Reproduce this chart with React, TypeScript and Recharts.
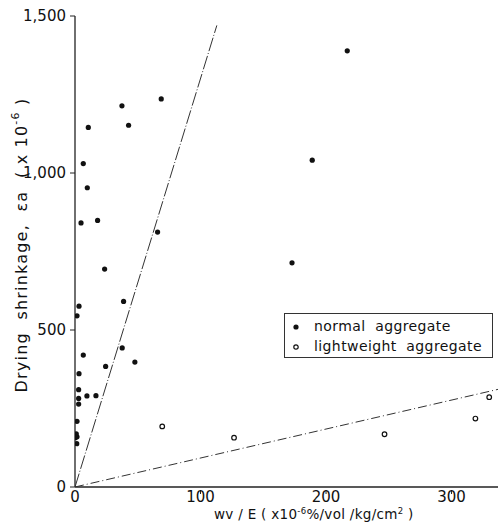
import React from 'react';
import { ScatterChart, Scatter, XAxis, YAxis, Legend, Label } from 'recharts';

// normal aggregate (filled dots)
const normalX = [4.8, 18, 6.6, 9.8, 10.6, 37.4, 42.7, 68.7, 65.8, 216.9, 189, 172.9, 23.6, 38.7, 3.2, 1.6, 6.6, 37.6, 24.4, 47.7, 3.2, 2.9, 2.9, 2.9, 9.5, 16.7, 1.6, 1, 1.6, 0.3, 1.4];
const normalY = [841, 849, 1030, 953, 1145, 1214, 1152, 1236, 812, 1389, 1041, 714, 694, 591, 576, 545, 420, 443, 384, 398, 361, 310, 282, 264, 290, 291, 209, 169, 160, 157, 138];

// lightweight aggregate (open circles)
const lightX = [69.5, 126.7, 246.6, 319, 330];
const lightY = [193, 157, 168, 218, 286];

// fitted lines through the origin
const steepLineX = [0, 113];
const steepLineY = [0, 1470];
const flatLineX = [0, 337];
const flatLineY = [0, 311];

const xTicks = [0, 100, 200, 300];
const yTicks = [0, 500, 1000, 1500];

const zip = (xs: number[], ys: number[]) => xs.map((x, i) => ({ x, y: ys[i] }));

const normalData = zip(normalX, normalY);
const lightData = zip(lightX, lightY);
const steepData = zip(steepLineX, steepLineY);
const flatData = zip(flatLineX, flatLineY);

const font = '"DejaVu Sans", sans-serif';

const XTick = (props: any) => {
  const { x, y, payload } = props;
  return (
    <g>
      {payload.value !== 0 && <line x1={x} x2={x} y1={y - 1} y2={y - 5} stroke="#222" strokeWidth={1} />}
      <text x={x} y={y + 7} textAnchor="middle" fontSize={15} fill="#111" fontFamily={font}>
        {payload.value}
      </text>
    </g>
  );
};

const YTick = (props: any) => {
  const { x, y, payload } = props;
  return (
    <text x={x - 2} y={y + 5} textAnchor="end" fontSize={15} fill="#111" fontFamily={font}>
      {payload.value.toLocaleString('en-US')}
    </text>
  );
};

const LegendBox = () => (
  <div
    style={{
      border: '1px solid #333',
      width: 199,
      padding: '2px 0 1px 8px',
      fontFamily: font,
      fontSize: 14,
      letterSpacing: 0.4,
      color: '#111',
      background: '#fff',
      lineHeight: '20px',
      textAlign: 'left',
    }}
  >
    <div>
      <svg width={21} height={10}><circle cx={3} cy={6} r={2.6} fill="#111" /></svg>
      normal&nbsp; aggregate
    </div>
    <div>
      <svg width={21} height={10}><circle cx={3} cy={6} r={2.2} fill="none" stroke="#111" strokeWidth={1.2} /></svg>
      lightweight&nbsp; aggregate
    </div>
  </div>
);

export default function App() {
  return (
    <div style={{ position: 'absolute', left: 0, top: 0, background: '#fff' }}>
      <ScatterChart width={500} height={524} margin={{ top: 16, right: 2, bottom: 7, left: 0 }}>
        <XAxis
          type="number"
          dataKey="x"
          domain={[0, 337]}
          ticks={xTicks}
          tick={<XTick />}
          tickLine={false}
          axisLine={{ stroke: '#222', strokeWidth: 1.3 }}
          height={30}
          allowDataOverflow
        >
          <Label
            content={() => (
              <text x={214} y={519} textAnchor="start" fontSize={13.5} letterSpacing={0.3} fill="#111" fontFamily={font}>
                wv / E ( x10<tspan dy={-5} fontSize={8.5}>-6</tspan><tspan dy={5}>%/vol /kg/cm</tspan>
                <tspan dy={-5} fontSize={8.5}>2</tspan><tspan dy={5}> )</tspan>
              </text>
            )}
          />
        </XAxis>
        <YAxis
          type="number"
          dataKey="y"
          domain={[0, 1500]}
          ticks={yTicks}
          tick={<YTick />}
          tickSize={5}
          tickLine={{ stroke: '#222' }}
          axisLine={{ stroke: '#222', strokeWidth: 1.3 }}
          width={75}
          allowDataOverflow
        >
          <Label
            content={() => (
              <text
                x={22}
                y={245}
                transform="rotate(-90 22 245)"
                textAnchor="middle"
                dominantBaseline="middle"
                fontSize={16}
                letterSpacing={1.2}
                fill="#111"
                fontFamily={font}
              >
                Drying&#160; shrinkage,&#160; εa&#160; ( x 10<tspan dy={-6} fontSize={11}>-6</tspan><tspan dy={6}> )</tspan>
              </text>
            )}
          />
        </YAxis>
        <Legend
          layout="horizontal"
          verticalAlign="middle"
          align="center"
          content={<LegendBox />}
          wrapperStyle={{ position: 'absolute', left: 284, top: 313, width: 'auto' }}
        />
        <Scatter
          data={steepData}
          line={{ stroke: '#333', strokeWidth: 1, strokeDasharray: '14 2 1 2' }}
          shape={() => null}
          legendType="none"
          isAnimationActive={false}
        />
        <Scatter
          data={flatData}
          line={{ stroke: '#333', strokeWidth: 1, strokeDasharray: '9 3 1 3' }}
          shape={() => null}
          legendType="none"
          isAnimationActive={false}
        />
        <Scatter
          name="normal aggregate"
          data={normalData}
          shape={(p: any) => <circle cx={p.cx} cy={p.cy} r={2.6} fill="#111" />}
          isAnimationActive={false}
        />
        <Scatter
          name="lightweight aggregate"
          data={lightData}
          shape={(p: any) => <circle cx={p.cx} cy={p.cy} r={2.3} fill="#fff" stroke="#111" strokeWidth={1.2} />}
          isAnimationActive={false}
        />
      </ScatterChart>
    </div>
  );
}
